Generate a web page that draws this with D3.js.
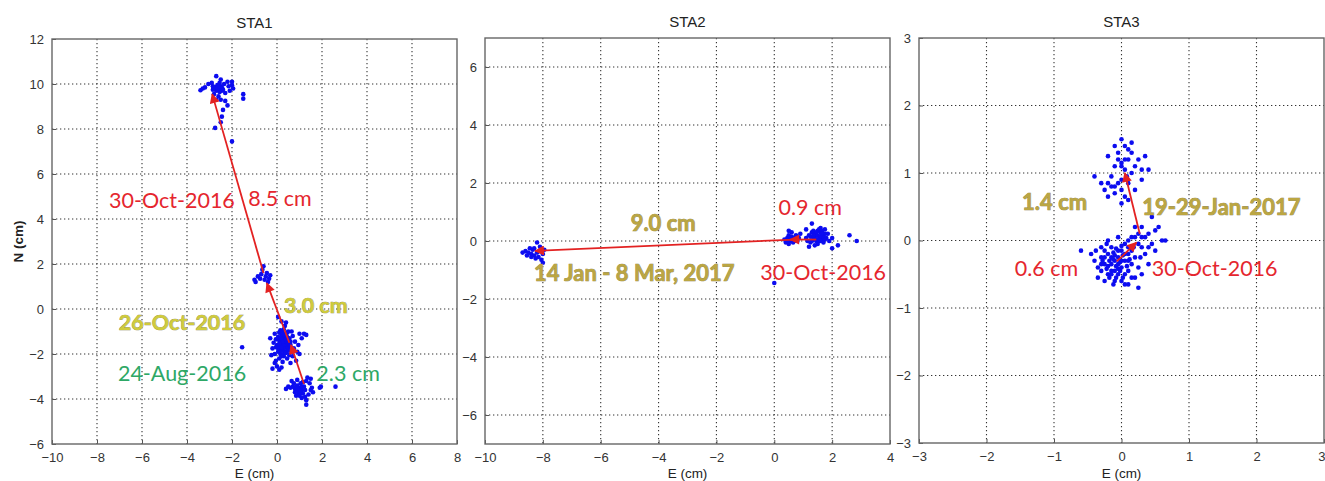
<!DOCTYPE html>
<html><head><meta charset="utf-8">
<script src="https://cdn.jsdelivr.net/npm/d3@7"></script>
<style>
html,body{margin:0;padding:0;background:#fff;}
svg{display:block;}
</style></head>
<body>
<svg id="chart" width="1325" height="481"></svg>
<script>
// ---------------- DATA ----------------
const titles = ["STA1", "STA2", "STA3"];
const xTicks1 = [-10,-8,-6,-4,-2,0,2,4,6,8];
const yTicks1 = [-6,-4,-2,0,2,4,6,8,10,12];
const xTicks2 = [-10,-8,-6,-4,-2,0,2,4];
const yTicks2 = [-6,-4,-2,0,2,4,6];
const xTicks3 = [-3,-2,-1,0,1,2,3];
const yTicks3 = [-3,-2,-1,0,1,2,3];
const xDomain1 = [-10,8], yDomain1 = [-6,12];
const xDomain2 = [-10,4], yDomain2 = [-7,7];
const xDomain3 = [-3,3],  yDomain3 = [-3,3];

// STA1 scatter (E, N in cm)
const sta1Points = [
 [-2.6,9.8],[-2.5,9.9],[-2.7,9.7],[-2.55,9.65],[-2.45,9.85],[-2.65,9.95],[-2.75,9.85],[-2.4,9.75],[-2.35,10.0],[-2.2,10.1],
 [-2.15,9.9],[-2.0,9.95],[-1.95,9.8],[-2.1,9.7],[-2.3,9.6],[-2.85,9.9],[-2.9,10.05],[-3.05,10.0],[-3.2,9.85],[-3.3,9.8],
 [-3.4,9.72],[-2.7,10.35],[-2.5,10.2],[-2.8,9.55],[-2.6,9.45],[-2.5,9.3],[-2.7,9.3],[-2.3,9.25],[-2.2,9.05],[-2.4,8.85],
 [-2.45,8.55],[-2.5,8.3],[-2.75,8.05],[-2.0,7.45],[-1.5,9.55],[-1.5,9.35],[-2.0,10.1],[-2.55,10.05],[-2.85,9.75],
 [-2.6,9.75],[-2.5,9.8],[-2.45,9.7],[-2.65,9.85],[-2.55,9.9],
 [-1.0,1.3],[-0.95,1.2],[-0.85,1.45],[-0.7,1.55],[-0.65,1.75],[-0.6,1.9],[-0.5,1.45],[-0.45,1.6],[-0.3,1.5],[-0.35,1.35],
 [-0.55,1.3],[-0.75,1.35],[-0.4,1.2],
 [0.3,-1.6],[0.2,-1.5],[0.4,-1.7],[0.35,-1.4],[0.25,-1.8],[0.15,-1.65],[0.45,-1.5],[0.5,-1.85],[0.1,-1.4],[0.3,-1.25],
 [0.2,-1.15],[0.4,-1.1],[0.55,-1.3],[0.6,-1.6],[0.65,-1.9],[0.05,-1.9],[0.0,-1.6],[-0.05,-1.35],[0.15,-2.0],[0.3,-2.1],
 [0.45,-2.2],[0.25,-2.35],[0.1,-2.2],[0.55,-2.05],[0.7,-2.1],[0.75,-1.75],[0.8,-1.45],[0.7,-1.2],[0.5,-1.0],[0.3,-0.9],
 [0.15,-0.95],[0.35,-0.75],[0.2,-0.55],[0.05,-0.35],[-0.1,-1.1],[-0.15,-1.5],[-0.2,-1.75],[-0.1,-2.0],[-0.25,-2.05],[-0.3,-1.3],
 [0.9,-1.9],[1.0,-2.0],[0.95,-1.6],[1.0,-1.1],[1.2,-1.1],[1.3,-1.15],[1.1,-1.3],[-0.1,-2.4],[0.0,-2.55],[-0.2,-2.65],
 [0.1,-2.7],[-0.05,-2.3],[0.2,-2.6],[-1.55,-1.7],[0.4,-0.6],[0.25,-1.35],[0.35,-1.9],[0.05,-1.25],[0.6,-1.45],[0.45,-1.25],
 [0.15,-1.75],[0.3,-2.0],[0.5,-1.65],[0.2,-1.3],[0.4,-1.55],[0.25,-1.6],[-0.05,-1.7],[0.65,-1.0],[0.85,-2.3],[0.6,-2.4],
 [0.3,-1.45],[0.35,-1.65],[0.25,-1.45],[0.4,-1.35],[0.45,-1.75],[0.2,-1.85],[0.1,-1.55],[0.35,-1.15],[0.5,-1.4],[0.15,-1.3],
 [0.05,-1.75],[0.4,-1.95],[0.3,-1.75],[0.2,-1.7],[0.55,-1.55],[0.1,-1.05],[0.25,-1.05],[0.45,-1.05],[0.6,-1.8],[0.2,-2.1],
 [1.0,-3.5],[0.9,-3.4],[1.1,-3.6],[0.8,-3.55],[1.2,-3.45],[1.05,-3.3],[0.95,-3.7],[1.15,-3.75],[0.7,-3.45],[0.6,-3.5],
 [0.5,-3.45],[0.4,-3.55],[0.75,-3.3],[1.3,-3.2],[1.35,-3.05],[1.5,-3.1],[1.45,-3.3],[1.55,-3.5],[1.6,-3.7],[1.4,-3.8],
 [1.25,-3.9],[1.3,-4.05],[1.3,-4.25],[1.1,-3.95],[0.85,-3.85],[1.9,-3.5],[1.95,-3.45],[2.6,-3.45],[0.65,-3.2],[0.9,-3.15],
 [1.15,-3.25],[1.0,-3.85],[0.8,-3.7],[1.25,-3.6],[1.5,-3.6],[1.0,-3.6],[0.9,-3.55],[1.1,-3.45],[0.85,-3.45],[1.05,-3.7]
];
// STA2 scatter
const sta2Points = [
 [-8.6,-0.35],[-8.5,-0.4],[-8.4,-0.45],[-8.3,-0.5],[-8.2,-0.4],[-8.1,-0.35],[-8.0,-0.45],[-8.15,-0.55],[-8.25,-0.6],[-8.05,-0.65],
 [-8.35,-0.3],[-8.45,-0.25],[-8.7,-0.4],[-8.55,-0.5],[-8.1,-0.2],[-8.2,-0.05],[-8.0,-0.75],[-8.3,-0.25],[-7.95,-0.3],[-8.4,-0.55],
 [0.35,0.05],[0.45,0.1],[0.5,0.2],[0.55,0.0],[0.6,0.15],[0.65,-0.05],[0.7,0.1],[0.75,0.2],[0.8,0.0],[0.85,0.1],
 [0.4,-0.05],[0.5,-0.1],[0.6,0.3],[0.9,0.25],[1.1,0.1],[1.2,0.2],[1.25,-0.05],[1.3,0.3],[1.35,0.1],[1.4,0.25],
 [1.45,0.0],[1.5,0.35],[1.55,0.15],[1.6,0.3],[1.65,0.05],[1.7,0.2],[1.75,0.4],[1.8,0.1],[1.85,0.25],[1.6,0.45],
 [1.5,-0.1],[1.4,-0.15],[1.2,-0.2],[1.7,-0.05],[1.9,0.0],[2.0,-0.25],[2.0,0.1],[2.2,-0.15],[2.6,0.2],[2.85,0.0],
 [1.3,0.6],[1.1,0.4],[0.5,0.35],[0.0,-1.45],[1.55,0.4],[1.65,0.35],[1.45,0.2],[1.35,0.35],[1.75,0.25],
 [1.3,0.0],[1.4,0.1],[1.5,0.2],[1.6,0.15],[1.7,0.1],[1.55,0.0],[1.45,0.3],[1.65,0.25],[1.25,0.15],[1.35,0.2],
 [1.5,0.05],[1.6,0.0],[1.75,0.05],[1.15,0.0],[0.55,0.1],[0.65,0.1],[0.7,0.0],[0.45,0.0],[0.6,0.05],[0.8,0.15]
];
// STA3 scatter
const sta3Points = [
 [-0.1,1.4],[0.0,1.5],[0.05,1.4],[0.1,1.35],[0.15,1.3],[-0.05,1.3],[0.1,1.2],[0.0,1.15],[-0.1,1.1],[0.05,1.05],
 [0.15,1.0],[0.2,1.1],[0.25,1.2],[0.35,1.25],[0.3,1.05],[0.4,1.05],[-0.2,1.25],[-0.15,0.95],[-0.3,0.85],[-0.25,0.75],
 [-0.15,0.8],[-0.05,0.85],[0.0,0.75],[0.05,0.65],[0.0,0.55],[-0.1,0.7],[0.1,0.85],[-0.4,0.95],[0.2,0.75],[-0.05,1.2],
 [0.15,1.45],[0.3,0.9],[-0.2,0.65],[0.1,0.6],[0.0,1.1],[0.05,1.2],[-0.1,0.8],[0.0,0.9],[-0.2,0.85],[0.08,0.95],
 [-0.1,-0.3],[-0.05,-0.25],[-0.15,-0.35],[0.0,-0.4],[-0.2,-0.2],[-0.25,-0.35],[-0.1,-0.45],[0.05,-0.3],[0.1,-0.2],[-0.05,-0.5],
 [-0.2,-0.5],[-0.3,-0.25],[-0.35,-0.4],[0.1,-0.45],[0.15,-0.35],[0.0,-0.15],[-0.15,-0.1],[0.05,-0.05],[-0.3,-0.1],[-0.4,-0.3],
 [-0.45,-0.2],[0.2,-0.25],[0.25,-0.4],[0.2,-0.55],[0.0,-0.6],[-0.1,-0.6],[-0.25,-0.6],[0.3,-0.1],[0.35,0.05],[0.25,0.1],
 [0.4,0.1],[0.45,-0.05],[0.5,0.15],[0.55,0.2],[0.6,0.0],[0.65,0.0],[0.2,0.2],[0.15,0.05],[0.3,0.2],[0.35,-0.2],
 [0.4,-0.35],[0.25,-0.7],[-0.6,-0.15],[0.45,0.35],[-0.05,0.05],[0.1,0.0],[-0.2,0.0],[0.5,-0.15],[0.1,-0.65],[-0.35,-0.55],
 [0.3,-0.5],[-0.05,-0.35],[0.05,-0.2],[-0.15,-0.25],[-0.05,-0.15],[0.15,-0.15],
 [-0.12,-0.28],[-0.08,-0.38],[-0.18,-0.3],[-0.02,-0.32],[-0.12,-0.18],[-0.22,-0.42],[-0.02,-0.45],[0.02,-0.22],[-0.28,-0.3],[-0.15,-0.45],
 [-0.08,-0.55],[0.08,-0.38],[-0.25,-0.15],[-0.1,-0.22],[0.0,-0.3],[-0.18,-0.55],[0.12,-0.28],[-0.3,-0.45],[-0.2,-0.38],[-0.05,-0.42],
 [0.05,-0.5],[-0.15,-0.5],[0.1,-0.1],[0.2,0.05],[0.25,-0.05],[0.3,0.05],[0.18,-0.1],[0.28,-0.25],[0.4,-0.1],[-0.38,-0.15],
 [-0.12,-0.65],[0.05,-0.65],[-0.22,-0.05],[0.0,-0.08],[0.15,-0.55],[-0.3,-0.35],[0.1,-0.3],[-0.08,-0.12],[0.02,-0.55],[-0.25,-0.25]
];

// displacement arrows [x0,y0,x1,y1]
const sta1Arrows = [[1.2,-3.33,0.62,-1.6],[0.55,-1.5,-0.45,1.15],[-0.6,1.6,-2.88,9.55]];
const sta2Arrows = [[1.45,0.05,0.55,0.05],[0.7,0.05,-8.27,-0.34]];
const sta3Arrows = [[-0.07,-0.31,0.22,-0.03],[0.27,0.1,0.05,1.0]];

// annotation labels: [text, x, y, style]
const sta1Labels = [
 ["30-Oct-2016",-4.67,4.84,"red"],["8.5 cm",0.13,4.93,"red"],
 ["3.0 cm",1.73,0.18,"yellow"],["26-Oct-2016",-4.22,-0.58,"yellow"],
 ["24-Aug-2016",-4.22,-2.84,"green"],["2.3 cm",3.16,-2.84,"green"]
];
const sta2Labels = [
 ["0.9 cm",1.24,1.17,"red"],["9.0 cm",-3.84,0.65,"olive"],
 ["14 Jan - 8 Mar, 2017",-4.84,-1.07,"olive"],["30-Oct-2016",1.69,-1.07,"red"]
];
const sta3Labels = [
 ["1.4 cm",-0.99,0.58,"olive"],["19-29-Jan-2017",1.48,0.50,"olive"],
 ["0.6 cm",-1.11,-0.41,"red"],["30-Oct-2016",1.38,-0.41,"red"]
];

// ---------------- LAYOUT ----------------
const panels = [
 {title:titles[0], box:[52,457,39,444], xd:xDomain1, yd:yDomain1, xt:xTicks1, yt:yTicks1, pts:sta1Points, arrows:sta1Arrows, labels:sta1Labels, ylabel:true},
 {title:titles[1], box:[485,890,38,444], xd:xDomain2, yd:yDomain2, xt:xTicks2, yt:yTicks2, pts:sta2Points, arrows:sta2Arrows, labels:sta2Labels},
 {title:titles[2], box:[919,1324,38,443], xd:xDomain3, yd:yDomain3, xt:xTicks3, yt:yTicks3, pts:sta3Points, arrows:sta3Arrows, labels:sta3Labels}
];
const styles = {
 red:{fill:"#e5262e", weight:400, stroke:"none", size:21.5},
 green:{fill:"#2ea866", weight:400, stroke:"none", size:21.5},
 yellow:{fill:"#cfcb3c", weight:700, stroke:"#8f8c55", size:21.5},
 olive:{fill:"#bba642", weight:700, stroke:"#8a7d45", size:22}
};

const svg = d3.select("#chart");
const defs = svg.append("defs");
defs.append("marker").attr("id","ah").attr("viewBox","0 0 10 10").attr("refX",9).attr("refY",5)
  .attr("markerWidth",6).attr("markerHeight",5.5).attr("markerUnits","strokeWidth").attr("orient","auto")
  .append("path").attr("d","M0,0 L10,5 L0,10 z").attr("fill","#e32222");

panels.forEach((p,i)=>{
  const [L,R,T,B] = p.box;
  const x = d3.scaleLinear().domain(p.xd).range([L,R]);
  const y = d3.scaleLinear().domain(p.yd).range([B,T]);
  const g = svg.append("g");
  g.append("rect").attr("x",L).attr("y",T).attr("width",R-L).attr("height",B-T).attr("fill","#fff");
  // grid
  g.selectAll(".vg").data(p.xt.filter(v=>v>p.xd[0]&&v<p.xd[1])).join("line")
    .attr("x1",d=>x(d)).attr("x2",d=>x(d)).attr("y1",T).attr("y2",B)
    .attr("stroke","#333").attr("stroke-width",1.1).attr("stroke-dasharray","1.3,2.7");
  g.selectAll(".hg").data(p.yt.filter(v=>v>p.yd[0]&&v<p.yd[1])).join("line")
    .attr("y1",d=>y(d)).attr("y2",d=>y(d)).attr("x1",L).attr("x2",R)
    .attr("stroke","#333").attr("stroke-width",1.1).attr("stroke-dasharray","1.3,2.7");
  // axes (ticks inward)
  const xa = d3.axisBottom(x).tickValues(p.xt).tickSize(-4).tickPadding(9).tickFormat(d3.format("d"));
  const ya = d3.axisLeft(y).tickValues(p.yt).tickSize(-4).tickPadding(8).tickFormat(d3.format("d"));
  const gx = g.append("g").attr("transform",`translate(0,${B})`).call(xa);
  const gy = g.append("g").attr("transform",`translate(${L},0)`).call(ya);
  [gx,gy].forEach(a=>{
    a.select(".domain").remove();
    a.selectAll(".tick line").attr("stroke","#555");
    a.selectAll("text").attr("font-family","Liberation Sans, Arial, sans-serif").attr("font-size",13).attr("fill","#333");
  });
  // keep the last x tick label inside the picture
  gx.selectAll(".tick text").filter(d=>x(d)>1315).attr("text-anchor","end").attr("dx",1);
  // frame
  g.append("rect").attr("x",L).attr("y",T).attr("width",R-L).attr("height",B-T)
    .attr("fill","none").attr("stroke","#666").attr("stroke-width",1.4);
  // points
  g.selectAll(".pt").data(p.pts).join("circle")
    .attr("cx",d=>x(d[0])).attr("cy",d=>y(d[1])).attr("r",2.3).attr("fill","#0c0cf0");
  // arrows
  g.selectAll(".ar").data(p.arrows).join("line")
    .attr("x1",d=>x(d[0])).attr("y1",d=>y(d[1])).attr("x2",d=>x(d[2])).attr("y2",d=>y(d[3]))
    .attr("stroke","#e32222").attr("stroke-width",1.8).attr("marker-end","url(#ah)");
  // labels
  g.selectAll(".lb").data(p.labels).join("text")
    .attr("x",d=>x(d[1])).attr("y",d=>y(d[2])).attr("text-anchor","middle").attr("dominant-baseline","central")
    .attr("font-family","Lato, Open Sans, sans-serif").attr("font-size",d=>styles[d[3]].size)
    .attr("font-weight",d=>styles[d[3]].weight).attr("fill",d=>styles[d[3]].fill)
    .attr("stroke",d=>styles[d[3]].stroke).attr("stroke-width",0.7).attr("paint-order","stroke")
    .text(d=>d[0]);
  // title
  g.append("text").attr("x",(L+R)/2).attr("y",T-11).attr("text-anchor","middle")
    .attr("font-family","Liberation Sans, Arial, sans-serif").attr("font-size",15).attr("fill","#222").text(p.title);
  // x label
  g.append("text").attr("x",(L+R)/2).attr("y",478).attr("text-anchor","middle")
    .attr("font-family","Liberation Sans, Arial, sans-serif").attr("font-size",13.5).attr("fill","#222").text("E (cm)");
  if(p.ylabel){
    g.append("text").attr("transform",`translate(23,${(T+B)/2}) rotate(-90)`).attr("text-anchor","middle")
      .attr("font-family","Liberation Sans, Arial, sans-serif").attr("font-size",13.5).attr("font-weight","bold")
      .attr("fill","#222").text("N (cm)");
  }
});
</script>
</body></html>
